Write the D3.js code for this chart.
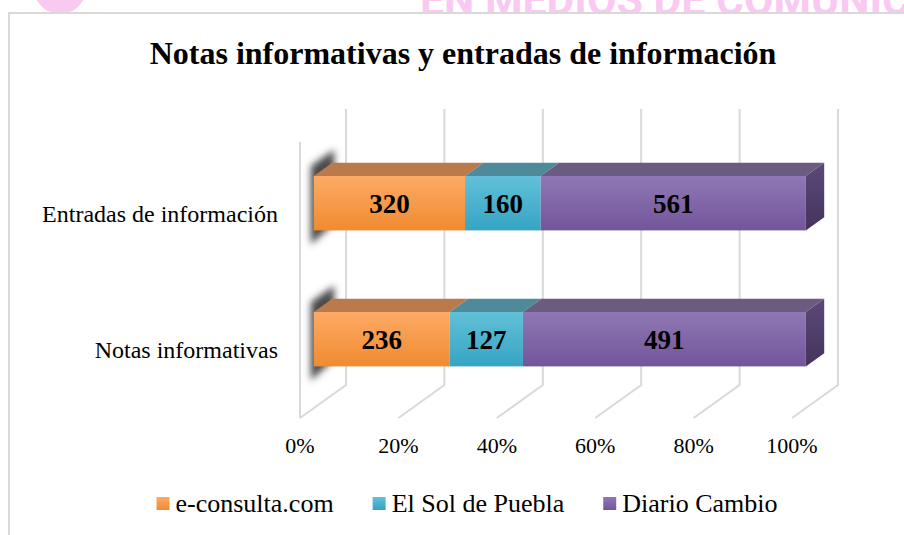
<!DOCTYPE html>
<html>
<head>
<meta charset="utf-8">
<script src="https://cdn.jsdelivr.net/npm/d3@7"></script>
<style>
body { margin: 0; background: #ffffff; }
</style>
</head>
<body>
<div id="chart"></div>
<script>
// data
var categories = ["Entradas de información", "Notas informativas"];
var seriesNames = ["e-consulta.com", "El Sol de Puebla", "Diario Cambio"];
var econsulta = [320, 236];
var elSolDePuebla = [160, 127];
var diarioCambio = [561, 491];
var tickValues = [0, 0.2, 0.4, 0.6, 0.8, 1];
var tickLabels = ["0%", "20%", "40%", "60%", "80%", "100%"];

var width = 904, height = 535;
var serif = '"Liberation Serif", "Times New Roman", serif';

var palette = [
	{light: '#fdaa66', dark: '#f08b30', top: '#ba7a4b'},
	{light: '#62c0d9', dark: '#35a4c3', top: '#4f8a9a'},
	{light: '#8f78b4', dark: '#73559b', top: '#6c5b81'}
];

var svg = d3.select('#chart')
	.append('svg')
	.attr('width', width)
	.attr('height', height);

var defs = svg.append('defs');
palette.forEach(function(p, i) {
	var g = defs.append('linearGradient')
		.attr('id', 'front' + i)
		.attr('x1', 0).attr('y1', 0).attr('x2', 0).attr('y2', 1);
	g.append('stop').attr('offset', '0%').attr('stop-color', p.light);
	g.append('stop').attr('offset', '100%').attr('stop-color', p.dark);
});
var sg = defs.append('linearGradient')
	.attr('id', 'side')
	.attr('x1', 0).attr('y1', 0).attr('x2', 0).attr('y2', 1);
sg.append('stop').attr('offset', '0%').attr('stop-color', '#5b4878');
sg.append('stop').attr('offset', '100%').attr('stop-color', '#45345d');
defs.append('filter')
	.attr('id', 'blur')
	.attr('x', '-50%').attr('y', '-50%').attr('width', '200%').attr('height', '200%')
	.append('feGaussianBlur')
	.attr('stdDeviation', 3.5);

// watermark of the page behind the chart
svg.append('circle')
	.attr('cx', 60).attr('cy', -12).attr('r', 26)
	.attr('fill', '#f9c9f1');
svg.append('text')
	.attr('x', 420).attr('y', 15)
	.attr('font-family', 'Roboto, sans-serif')
	.attr('font-weight', 'bold')
	.attr('font-size', '44px')
	.attr('textLength', 490)
	.attr('lengthAdjust', 'spacingAndGlyphs')
	.attr('fill', '#f9c9f1')
	.text('EN MEDIOS DE COMUNIC');

// chart area
svg.append('rect')
	.attr('x', 9).attr('y', 13)
	.attr('width', 1000).attr('height', 1000)
	.attr('fill', '#ffffff')
	.attr('stroke', '#d9d9d9')
	.attr('stroke-width', 2);

svg.append('text')
	.attr('x', 463).attr('y', 64)
	.attr('text-anchor', 'middle')
	.attr('font-family', serif)
	.attr('font-weight', 'bold')
	.attr('font-size', '32px')
	.text('Notas informativas y entradas de información');

// 3d box: front floor scale plus a depth vector
var xFront = d3.scaleLinear().domain([0, 1]).range([300, 792]);
var depthX = 46, depthY = -33;
var floorY = 418, wallTop = 109;
function px(t, d) { return xFront(t) + d * depthX; }

var grid = svg.append('g')
	.attr('stroke', '#d9d9d9')
	.attr('stroke-width', 2)
	.attr('fill', 'none');
grid.append('line')
	.attr('x1', px(0, 0)).attr('y1', wallTop - depthY)
	.attr('x2', px(0, 0)).attr('y2', floorY);
tickValues.forEach(function(t) {
	grid.append('polyline')
		.attr('points', [
			[px(t, 1), wallTop],
			[px(t, 1), floorY + depthY],
			[px(t, 0), floorY]
		].join(' '));
});

svg.selectAll('text.tick')
	.data(tickValues)
	.enter()
	.append('text')
	.attr('class', 'tick')
	.attr('x', function(d) { return px(d, 0); })
	.attr('y', 453)
	.attr('text-anchor', 'middle')
	.attr('font-family', serif)
	.attr('font-size', '22px')
	.text(function(d, i) { return tickLabels[i]; });

var y = d3.scaleBand()
	.domain(categories)
	.range([135.2, 407.2])
	.paddingInner(0.6)
	.paddingOuter(0.3);
var bh = y.bandwidth();

var rows = categories.map(function(c, i) {
	return {cat: c, s0: econsulta[i], s1: elSolDePuebla[i], s2: diarioCambio[i]};
});
var stack = d3.stack().keys(['s0', 's1', 's2']).offset(d3.stackOffsetExpand);
var layers = stack(rows);

var front = 0.3, back = 0.7;
var ox = (back - front) * depthX, oy = (back - front) * depthY;

rows.forEach(function(r) {
	var y0 = y(r.cat), y1 = y0 + bh;
	svg.append('polygon')
		.attr('points', [
			[px(0, front) - 3, y0 - 10],
			[px(0, back) + 2, y0 + oy - 13],
			[px(0, back) + 2, y1 + oy + 6],
			[px(0, front) - 3, y1 + 14]
		].join(' '))
		.attr('fill', '#4a4a4a')
		.attr('filter', 'url(#blur)');
});

layers.forEach(function(layer, i) {
	var g = svg.append('g');
	layer.forEach(function(d) {
		var y0 = y(d.data.cat), y1 = y0 + bh;
		var xa = px(d[0], front), xb = px(d[1], front);
		g.append('polygon')
			.attr('points', [[xa, y0], [xa + ox, y0 + oy], [xb + ox, y0 + oy], [xb, y0]].join(' '))
			.attr('fill', palette[i].top);
		g.append('rect')
			.attr('x', xa).attr('y', y0)
			.attr('width', xb - xa).attr('height', bh)
			.attr('fill', 'url(#front' + i + ')');
		if (i == layers.length - 1) {
			g.append('polygon')
				.attr('points', [[xb, y0], [xb + ox, y0 + oy], [xb + ox, y1 + oy], [xb, y1]].join(' '))
				.attr('fill', 'url(#side)');
		}
		g.append('text')
			.attr('x', (xa + xb) / 2)
			.attr('y', y0 + bh / 2 + 10)
			.attr('text-anchor', 'middle')
			.attr('font-family', serif)
			.attr('font-weight', 'bold')
			.attr('font-size', '27px')
			.text(d.data['s' + i]);
	});
});

svg.selectAll('text.cat')
	.data(categories)
	.enter()
	.append('text')
	.attr('class', 'cat')
	.attr('x', 278)
	.attr('y', function(d) { return y(d) + bh / 2 + 19; })
	.attr('text-anchor', 'end')
	.attr('font-family', serif)
	.attr('font-size', '24px')
	.text(function(d) { return d; });

// legend, laid out from measured text widths and centred
var legend = svg.append('g');
var lx = 0;
seriesNames.forEach(function(name, i) {
	var item = legend.append('g').attr('transform', 'translate(' + lx + ',0)');
	item.append('rect')
		.attr('x', 0).attr('y', 497)
		.attr('width', 13).attr('height', 13)
		.attr('fill', 'url(#front' + i + ')');
	var t = item.append('text')
		.attr('x', 19).attr('y', 512)
		.attr('font-family', serif)
		.attr('font-size', '26px')
		.text(name);
	lx += 19 + t.node().getComputedTextLength() + 39;
});
var legendW = lx - 39;
legend.attr('transform', 'translate(' + (153 + 781 - legendW) / 2 + ',0)');
</script>
</body>
</html>
